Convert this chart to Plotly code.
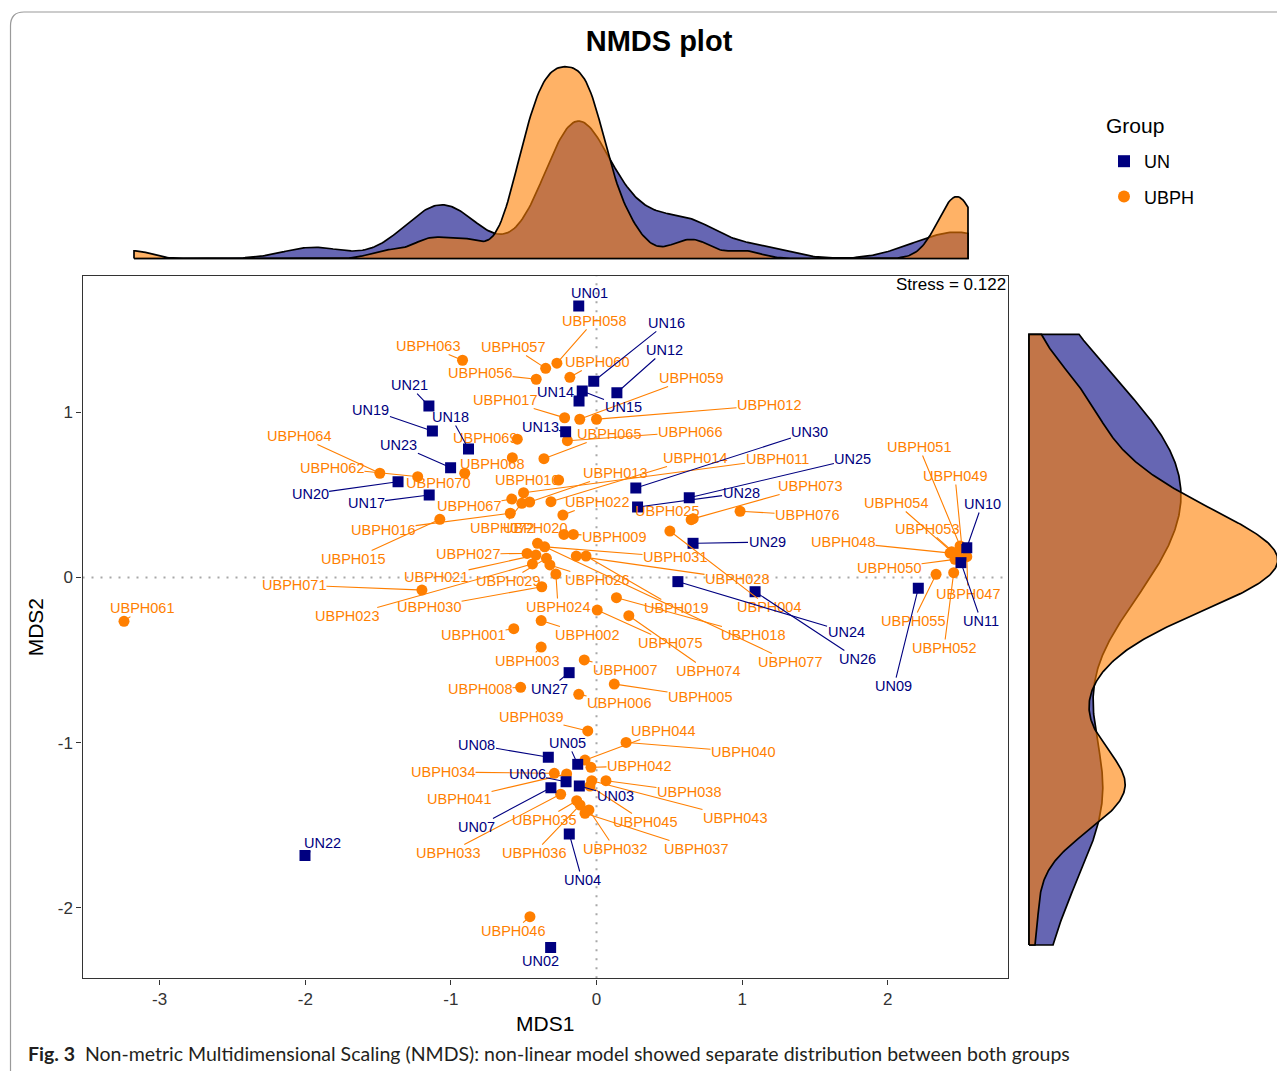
import numpy as np
import plotly.graph_objects as go

# ---------------- data ----------------
un_names = ["UN01", "UN02", "UN03", "UN04", "UN05", "UN06", "UN07", "UN08", "UN09", "UN10",
            "UN11", "UN12", "UN13", "UN14", "UN15", "UN16", "UN17", "UN18", "UN19", "UN20",
            "UN21", "UN22", "UN23", "UN24", "UN25", "UN26", "UN27", "UN28", "UN29", "UN30"]
un_x = [-0.122, -0.315, -0.118, -0.187, -0.129, -0.209, -0.313, -0.331, 2.210, 2.543,
        2.503, 0.140, -0.212, -0.120, -0.098, -0.019, -1.149, -0.879, -1.127, -1.363,
        -1.151, -2.002, -1.002, 0.559, 0.637, 1.089, -0.188, 0.282, 0.663, 0.270]
un_y = [1.643, -2.239, -1.262, -1.553, -1.131, -1.236, -1.272, -1.088, -0.065, 0.180,
        0.090, 1.119, 0.883, 1.068, 1.129, 1.188, 0.499, 0.778, 0.887, 0.580,
        1.038, -1.682, 0.665, -0.025, 0.483, -0.086, -0.576, 0.427, 0.207, 0.542]
# repelled label positions (data units)
un_lab_x = [-0.045, -0.388, 0.127, -0.099, -0.196, -0.477, -0.821, -0.821, 2.043, 2.648,
            2.641, 0.470, -0.388, -0.285, 0.182, 0.484, -1.583, -1.000, -1.549, -1.967,
            -1.287, -1.885, -1.357, 1.714, 1.761, 1.791, -0.326, 0.993, 1.171, 1.466]
un_lab_y = [1.722, -2.321, -1.323, -1.831, -1.001, -1.190, -1.510, -1.014, -0.657, 0.445,
            -0.263, 1.377, 0.911, 1.123, 1.032, 1.541, 0.451, 0.971, 1.014, 0.505,
            1.165, -1.607, 0.803, -0.330, 0.717, -0.493, -0.675, 0.511, 0.215, 0.881]

ubph_names = ["UBPH001", "UBPH002", "UBPH003", "UBPH004", "UBPH005", "UBPH006", "UBPH007", "UBPH008", "UBPH009", "UBPH010",
              "UBPH011", "UBPH012", "UBPH013", "UBPH014", "UBPH015", "UBPH016", "UBPH017", "UBPH018", "UBPH019", "UBPH020",
              "UBPH021", "UBPH022", "UBPH023", "UBPH024", "UBPH025", "UBPH026", "UBPH027", "UBPH028", "UBPH029", "UBPH030",
              "UBPH031", "UBPH032", "UBPH033", "UBPH034", "UBPH035", "UBPH036", "UBPH037", "UBPH038", "UBPH039", "UBPH040",
              "UBPH041", "UBPH042", "UBPH043", "UBPH044", "UBPH045", "UBPH046", "UBPH047", "UBPH048", "UBPH049", "UBPH050",
              "UBPH051", "UBPH052", "UBPH053", "UBPH054", "UBPH055", "UBPH056", "UBPH057", "UBPH058", "UBPH059", "UBPH060",
              "UBPH061", "UBPH062", "UBPH063", "UBPH064", "UBPH065", "UBPH066", "UBPH067", "UBPH068", "UBPH069", "UBPH070",
              "UBPH071", "UBPH072", "UBPH073", "UBPH074", "UBPH075", "UBPH076", "UBPH077"]
ubph_x = [-0.568, -0.380, -0.380, 0.504, 0.122, -0.122, -0.084, -0.521, -0.159, -0.260,
          -0.501, 0.000, -0.459, -0.313, -1.076, -0.592, -0.219, 0.137, -0.072, -0.224,
          -0.416, -0.231, -0.440, -0.279, 0.650, -0.320, -0.477, -0.139, -0.344, -0.376,
          -0.356, -0.052, -0.246, -0.290, -0.136, -0.113, -0.079, 0.065, -0.060, 0.203,
          -0.205, -0.038, -0.033, -0.079, -0.045, -0.457, 2.543, 2.428, 2.510, 2.462,
          2.497, 2.453, 2.474, 2.439, 2.332, -0.414, -0.349, -0.272, -0.115, -0.183,
          -3.245, -1.228, -0.920, -1.488, -0.361, -0.200, -0.582, -0.578, -0.544, -0.905,
          -1.199, -0.513, 0.664, 0.222, 0.005, 0.986, -0.405]
ubph_y = [-0.310, -0.261, -0.421, 0.281, -0.645, -0.707, -0.499, -0.665, 0.261, 0.590,
          0.513, 0.958, 0.457, 0.459, 0.352, 0.389, 0.967, -0.122, 0.130, 0.261,
          0.136, 0.378, 0.082, 0.021, 0.350, 0.076, 0.146, 0.130, 0.116, -0.056,
          0.186, -1.407, -1.312, -1.185, -1.351, -1.377, -1.427, -1.230, -0.929, -0.998,
          -1.189, -1.149, -1.230, -1.105, -1.262, -2.053, 0.126, 0.148, 0.179, 0.110,
          0.191, 0.029, 0.136, 0.156, 0.019, 1.200, 1.266, 1.297, 0.958, 1.212,
          -0.265, 0.610, 1.315, 0.631, 0.719, 0.828, 0.475, 0.725, 0.837, 0.631,
          -0.076, 0.449, 0.356, -0.231, -0.197, 0.401, 0.207]
ubph_lab_x = [-0.848, -0.065, -0.477, 1.185, 0.711, 0.155, 0.196, -0.800, 0.120, -0.477,
              1.240, 1.185, 0.127, 0.677, -1.672, -1.466, -0.628, 1.075, 0.546, -0.422,
              -1.102, 0.003, -1.714, -0.264, 0.484, 0.003, -0.883, 0.965, -0.608, -1.150,
              0.539, 0.127, -1.020, -1.054, -0.361, -0.429, 0.683, 0.635, -0.450, 1.006,
              -0.944, 0.292, 0.951, 0.457, 0.333, -0.573, 2.551, 1.693, 2.462, 2.009,
              2.215, 2.387, 2.270, 2.057, 2.174, -0.800, -0.573, -0.017, 0.649, 0.003,
              -3.122, -1.817, -1.157, -2.043, 0.086, 0.642, -0.876, -0.718, -0.766, -1.089,
              -2.078, -0.649, 1.466, 0.766, 0.505, 1.446, 1.329]
ubph_lab_y = [-0.348, -0.348, -0.505, -0.179, -0.723, -0.760, -0.560, -0.675, 0.245, 0.590,
              0.717, 1.044, 0.633, 0.723, 0.112, 0.288, 1.074, -0.348, -0.185, 0.300,
              0.003, 0.457, -0.233, -0.179, 0.403, -0.015, 0.142, -0.009, -0.021, -0.179,
              0.124, -1.643, -1.668, -1.177, -1.468, -1.668, -1.643, -1.298, -0.844, -1.056,
              -1.341, -1.141, -1.456, -0.929, -1.480, -2.140, -0.100, 0.215, 0.614, 0.058,
              0.790, -0.427, 0.294, 0.451, -0.263, 1.238, 1.395, 1.553, 1.208, 1.304,
              -0.185, 0.663, 1.401, 0.857, 0.869, 0.881, 0.433, 0.687, 0.844, 0.572,
              -0.045, 0.300, 0.554, -0.566, -0.396, 0.378, -0.511]

stress_value = 0.122
x_ticks = [-3, -2, -1, 0, 1, 2]
y_ticks = [-2, -1, 0, 1]

# ---------------- styles / layout helpers ----------------
# the page body has an 8px margin: the figure is drawn from (8, 8)
OFF = 8
W, H = 1285 - OFF, 1071 - OFF
def px_x(p):
    return (p - OFF) / W
def px_y(p):
    return 1 - (p - OFF) / H

FONT = "Liberation Sans, Arial, Helvetica, sans-serif"
UN_COL = "#000080"
UBPH_COL = "#FF7F00"
UN_FILL = "rgba(0,0,128,0.6)"
UBPH_FILL = "rgba(255,127,0,0.6)"


def kde(vals, grid):
    v = np.asarray(vals, float)
    n = len(v)
    sd = v.std(ddof=1)
    q75, q25 = np.percentile(v, [75, 25])
    lo = min(sd, (q75 - q25) / 1.34)
    bw = 0.9 * lo * n ** -0.2
    z = (grid[:, None] - v[None, :]) / bw
    return np.exp(-0.5 * z ** 2).sum(1) / (n * bw * np.sqrt(2 * np.pi))


all_x = np.array(un_x + ubph_x)
all_y = np.array(un_y + ubph_y)
gx = np.linspace(all_x.min(), all_x.max(), 512)
gy = np.linspace(all_y.min(), all_y.max(), 512)
dens_x = {"UN": kde(un_x, gx), "UBPH": kde(ubph_x, gx)}
dens_y = {"UN": kde(un_y, gy), "UBPH": kde(ubph_y, gy)}

fig = go.Figure()

# top marginal density
for grp, fillc in [("UN", UN_FILL), ("UBPH", UBPH_FILL)]:
    d = dens_x[grp]
    xs = np.concatenate([[gx[0]], gx, [gx[-1], gx[0]]])
    ys = np.concatenate([[0.0], d, [0.0, 0.0]])
    fig.add_trace(go.Scatter(x=xs, y=ys, xaxis="x2", yaxis="y2", mode="lines",
                             fill="toself", fillcolor=fillc,
                             line=dict(color="black", width=1.7),
                             showlegend=False, hoverinfo="skip"))

# right marginal density
for grp, fillc in [("UN", UN_FILL), ("UBPH", UBPH_FILL)]:
    d = dens_y[grp]
    ys = np.concatenate([[gy[0]], gy, [gy[-1], gy[0]]])
    xs = np.concatenate([[0.0], d, [0.0, 0.0]])
    fig.add_trace(go.Scatter(x=xs, y=ys, xaxis="x3", yaxis="y3", mode="lines",
                             fill="toself", fillcolor=fillc,
                             line=dict(color="black", width=1.7),
                             showlegend=False, hoverinfo="skip"))

# main scatter
fig.add_trace(go.Scatter(x=ubph_x, y=ubph_y, mode="markers", name="UBPH",
                         marker=dict(symbol="circle", size=11, color=UBPH_COL, line=dict(width=0)),
                         legendgroup="UBPH", legendrank=2, text=ubph_names))
fig.add_trace(go.Scatter(x=un_x, y=un_y, mode="markers", name="UN",
                         marker=dict(symbol="square", size=11, color=UN_COL, line=dict(width=0)),
                         legendgroup="UN", legendrank=1, text=un_names))

annotations = []
for names, xs, ys, lxs, lys, col in [
        (ubph_names, ubph_x, ubph_y, ubph_lab_x, ubph_lab_y, UBPH_COL),
        (un_names, un_x, un_y, un_lab_x, un_lab_y, UN_COL)]:
    for nm, x, y, lx, ly in zip(names, xs, ys, lxs, lys):
        annotations.append(dict(
            x=x, y=y, xref="x", yref="y", ax=lx, ay=ly, axref="x", ayref="y",
            text=nm, showarrow=True, arrowhead=0, arrowwidth=1.1, arrowcolor=col,
            standoff=4, font=dict(family=FONT, size=14.5, color=col),
            borderpad=0))

annotations.append(dict(x=px_x(1008), y=px_y(273), xref="paper", yref="paper",
                        xanchor="right", yanchor="top", showarrow=False,
                        text="Stress = %.3f" % stress_value,
                        font=dict(family=FONT, size=17, color="black")))
annotations.append(dict(x=px_x(1104), y=px_y(126), xref="paper", yref="paper",
                        xanchor="left", yanchor="middle", showarrow=False,
                        text="Group", font=dict(family=FONT, size=21, color="black")))
annotations.append(dict(x=px_x(26), y=px_y(1053), xref="paper", yref="paper",
                        xanchor="left", yanchor="middle", showarrow=False,
                        text="<b>Fig. 3</b>  Non-metric Multidimensional Scaling (NMDS): non-linear model showed separate distribution between both groups",
                        font=dict(family="Lato, Noto Sans, sans-serif", size=19.5, color="#231f20")))

# marginal axis ranges
xmin, xmax = gx[0], gx[-1]
sx = (xmax - xmin) / (967.5 - 133.6)
top_max = max(dens_x["UN"].max(), dens_x["UBPH"].max())
sy_top = top_max / (258.5 - 66.7)
ymin, ymax = gy[0], gy[-1]
sy_r = (ymax - ymin) / (945.0 - 334.3)
right_max = max(dens_y["UN"].max(), dens_y["UBPH"].max())
sx_r = right_max / (1277.7 - 1029.0)

shapes = [
    dict(type="line", xref="x", yref="y domain", x0=0, x1=0, y0=0, y1=1,
         line=dict(color="#a8a8a8", width=2, dash="2px,7px"), layer="below"),
    dict(type="line", xref="x domain", yref="y", x0=0, x1=1, y0=0, y1=0,
         line=dict(color="#a8a8a8", width=2, dash="2px,7px"), layer="below"),
    dict(type="path", xref="paper", yref="paper",
         path="M %f,%f L %f,%f Q %f,%f %f,%f L %f,%f" % (
             px_x(10.5), px_y(1080), px_x(10.5), px_y(26), px_x(10.5), px_y(12),
             px_x(24), px_y(12), px_x(1290), px_y(12)),
         line=dict(color="#9a9a9a", width=1.2)),
]

axis_font = dict(family=FONT, size=17, color="#333333")
fig.update_layout(
    width=W, height=H, margin=dict(l=0, r=0, t=0, b=0),
    paper_bgcolor="white", plot_bgcolor="white",
    title=dict(text="<b>NMDS plot</b>", x=px_x(659), y=px_y(41), xanchor="center", yanchor="middle",
               font=dict(family=FONT, size=29, color="black")),
    xaxis=dict(domain=[px_x(82.5), px_x(1008)], range=[-3.530, 2.826],
               tickvals=x_ticks, ticktext=[str(t) for t in x_ticks],
               showgrid=False, zeroline=False, showline=True, mirror=True,
               linecolor="#333333", linewidth=1.4, ticks="outside", ticklen=5,
               tickcolor="#333333", tickwidth=1.2, tickfont=axis_font,
               title=dict(text="MDS1", font=dict(family=FONT, size=21, color="black"), standoff=8)),
    yaxis=dict(domain=[px_y(978.3), px_y(276)], range=[-2.426, 1.825],
               tickvals=y_ticks, ticktext=[str(t) for t in y_ticks],
               showgrid=False, zeroline=False, showline=True, mirror=True,
               linecolor="#333333", linewidth=1.4, ticks="outside", ticklen=5,
               tickcolor="#333333", tickwidth=1.2, tickfont=axis_font,
               title=dict(text="MDS2", font=dict(family=FONT, size=21, color="black"), standoff=8)),
    xaxis2=dict(domain=[px_x(131), px_x(971)], range=[xmin - 3 * sx, xmax + 3 * sx],
                visible=False, anchor="y2"),
    yaxis2=dict(domain=[px_y(262), px_y(55)], range=[-(262 - 258.5) * sy_top, (258.5 - 55) * sy_top],
                visible=False, anchor="x2"),
    xaxis3=dict(domain=[px_x(1025), 1.0], range=[-(1029 - 1025) * sx_r, (1285 - 1029) * sx_r],
                visible=False, anchor="y3"),
    yaxis3=dict(domain=[px_y(948), px_y(331)], range=[ymin - 3 * sy_r, ymax + 3.3 * sy_r],
                visible=False, anchor="x3"),
    legend=dict(x=px_x(1104), y=px_y(143), xanchor="left", yanchor="top",
                font=dict(family=FONT, size=18, color="black"),
                bgcolor="rgba(0,0,0,0)", tracegroupgap=9, itemsizing="constant"),
    annotations=annotations,
    shapes=shapes,
    showlegend=True,
)

fig.write_html("out.html")
